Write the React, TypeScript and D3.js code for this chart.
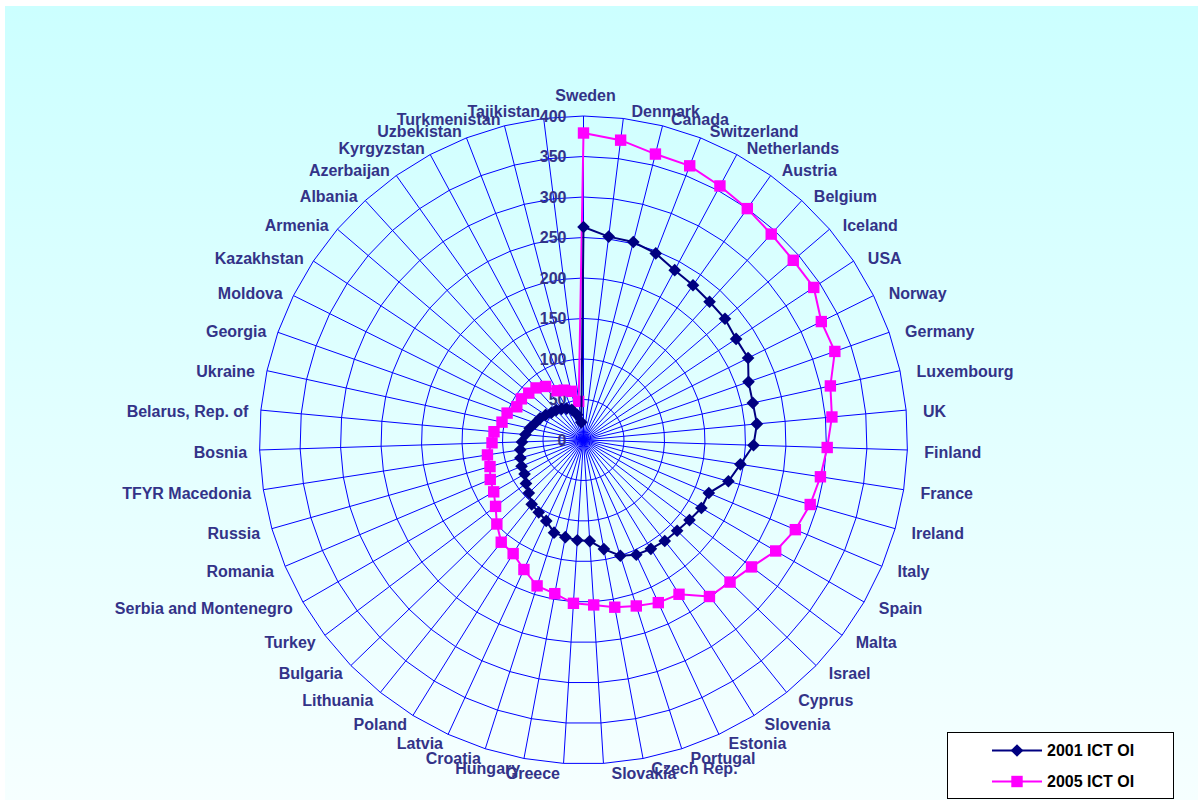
import React from 'react';
import * as d3 from 'd3';

const categories = [
  'Sweden', 'Denmark', 'Canada', 'Switzerland', 'Netherlands', 'Austria', 'Belgium', 'Iceland', 'USA', 'Norway',
  'Germany', 'Luxembourg', 'UK', 'Finland', 'France', 'Ireland', 'Italy', 'Spain', 'Malta', 'Israel',
  'Cyprus', 'Slovenia', 'Estonia', 'Portugal', 'Czech Rep.', 'Slovakia', 'Greece', 'Hungary', 'Croatia', 'Latvia',
  'Poland', 'Lithuania', 'Bulgaria', 'Turkey', 'Serbia and Montenegro', 'Romania', 'Russia', 'TFYR Macedonia', 'Bosnia', 'Belarus, Rep. of',
  'Ukraine', 'Georgia', 'Moldova', 'Kazakhstan', 'Armenia', 'Albania', 'Azerbaijan', 'Kyrgyzstan', 'Uzbekistan', 'Turkmenistan',
  'Tajikistan',
];

const ict2001 = [
  263, 253, 252, 247, 238, 234, 231, 230, 226, 227,
  216, 214, 215, 210, 196, 186, 168, 168, 164, 161,
  160, 158, 156, 150, 137, 125, 124, 122, 120, 110,
  105, 102, 94, 89, 84, 83, 81, 79, 76, 72,
  68, 63, 60, 56, 52, 50, 47, 44, 40, 32,
  22,
];

const ict2005 = [
  379, 373, 364, 363, 356, 350, 344, 341, 341, 328,
  329, 312, 308, 301, 296, 291, 284, 274, 260, 252,
  248, 224, 221, 215, 210, 204, 202, 193, 189, 176,
  165, 162, 149, 136, 128, 125, 120, 120, 113, 111,
  103, 100, 92, 92, 89, 87, 81, 69, 66, 62,
  48,
];

const radialTicks = [0, 50, 100, 150, 200, 250, 300, 350, 400];
const seriesNames = ['2001 ICT OI', '2005 ICT OI'];

export default function App() {
  const W = 1198;
  const H = 800;
  const cx = 583.5;
  const cy = 440;
  const R = 324;
  const n = categories.length;
  const rScale = d3.scaleLinear().domain([0, 400]).range([0, R]);
  const angle = d3.scaleLinear().domain([0, n]).range([0, 2 * Math.PI]);
  const idx = d3.range(n);

  const ringPath = (t: number) =>
    d3.lineRadial<number>()
      .angle((i) => angle(i))
      .radius(() => rScale(t))
      .curve(d3.curveLinearClosed)(idx) as string;

  const seriesPath = (vals: number[]) =>
    d3.lineRadial<number>()
      .angle((i) => angle(i))
      .radius((i) => rScale(vals[i]))
      .curve(d3.curveLinearClosed)(idx) as string;

  const pt = (i: number, v: number) => {
    const a = angle(i);
    return [cx + rScale(v) * Math.sin(a), cy - rScale(v) * Math.cos(a)];
  };

  const diamond = d3.symbol(d3.symbolSquare, 80)() as string;
  const square = d3.symbol(d3.symbolSquare, 130)() as string;

  const labelColor = '#333388';
  const font = '"Liberation Sans", Arial, sans-serif';

  const labelPos = (i: number) => {
    const a = angle(i);
    const s = Math.sin(a);
    const c = Math.cos(a);
    const px = cx + R * s;
    const py = cy - R * c;
    if (Math.abs(s) < 0.02) {
      return { x: px + 2, y: c > 0 ? py - 21 : py + 10, anchor: 'middle' };
    }
    const y = c > 0 ? py + 2.5 - 9.5 * c : py + 2.5 - 7.5 * c;
    if (s > 0) return { x: px + 8 + 9 * s * s, y, anchor: 'start' };
    return { x: px - (3.5 + 9 * s * s), y, anchor: 'end' };
  };

  return (
    <svg width={W} height={H} style={{ position: 'absolute', left: 0, top: 0 }}>
      <defs>
        <linearGradient id="bg" x1="0" y1="0" x2="0" y2="1">
          <stop offset="0" stopColor="#CCFFFF" />
          <stop offset="1" stopColor="#F6FFFF" />
        </linearGradient>
      </defs>
      <rect x={0} y={0} width={W} height={H} fill="#ffffff" />
      <rect x={5} y={6} width={W - 5} height={H - 6} fill="url(#bg)" />

      <g transform={`translate(${cx},${cy})`} fill="none" stroke="#0000FF" strokeWidth={1}>
        {radialTicks.filter((t) => t > 0).map((t) => (
          <path key={t} d={ringPath(t)} />
        ))}
        {idx.map((i) => {
          const a = angle(i);
          return (
            <line key={i} x1={0} y1={0} x2={R * Math.sin(a)} y2={-R * Math.cos(a)} />
          );
        })}
      </g>

      <g fontFamily={font} fontWeight="bold" fontSize={16} fill={labelColor}>
        {radialTicks.map((t) => (
          <text key={t} x={cx - 17} y={cy - rScale(t)} dy="0.35em" textAnchor="end">
            {t}
          </text>
        ))}
        {categories.map((c, i) => {
          const p = labelPos(i);
          return (
            <text key={c} x={p.x} y={p.y} dy="0.35em" textAnchor={p.anchor as any}>
              {c}
            </text>
          );
        })}
      </g>

      <g transform={`translate(${cx},${cy})`}>
        <path d={seriesPath(ict2005)} fill="none" stroke="#FF00FF" strokeWidth={2} />
      </g>
      {ict2005.map((v, i) => {
        const [x, y] = pt(i, v);
        return <path key={'s' + i} d={square} transform={`translate(${x},${y})`} fill="#FF00FF" />;
      })}

      <g transform={`translate(${cx},${cy})`}>
        <path d={seriesPath(ict2001)} fill="none" stroke="#000080" strokeWidth={2} />
      </g>
      {ict2001.map((v, i) => {
        const [x, y] = pt(i, v);
        return <path key={'d' + i} d={diamond} transform={`translate(${x},${y}) rotate(45)`} fill="#000080" />;
      })}

      <g>
        <rect x={947.5} y={732.5} width={226} height={66} fill="#ffffff" stroke="#000000" strokeWidth={1} />
        <line x1={992} x2={1042} y1={750.5} y2={750.5} stroke="#000080" strokeWidth={2} />
        <path d={diamond} transform="translate(1017,750.5) rotate(45)" fill="#000080" />
        <text x={1047} y={750.5} dy="0.35em" fontFamily={font} fontWeight="bold" fontSize={16} fill="#000000">
          {seriesNames[0]}
        </text>
        <line x1={992} x2={1042} y1={781.5} y2={781.5} stroke="#FF00FF" strokeWidth={2} />
        <path d={square} transform="translate(1017,781.5)" fill="#FF00FF" />
        <text x={1047} y={781.5} dy="0.35em" fontFamily={font} fontWeight="bold" fontSize={16} fill="#000000">
          {seriesNames[1]}
        </text>
      </g>
    </svg>
  );
}
